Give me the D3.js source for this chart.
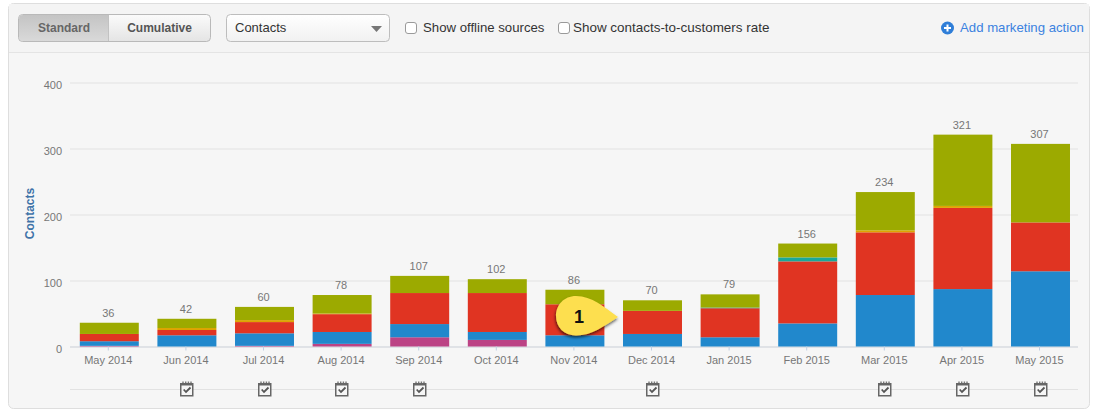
<!DOCTYPE html>
<html>
<head>
<meta charset="utf-8">
<script src="https://cdn.jsdelivr.net/npm/d3@7/dist/d3.min.js"></script>
<style>
html,body{margin:0;padding:0;background:#fff;}
svg{display:block;font-family:"Liberation Sans",Arial,sans-serif;}
</style>
</head>
<body>
<svg id="c" width="1099" height="418"></svg>
<script>
const months = ["May 2014","Jun 2014","Jul 2014","Aug 2014","Sep 2014","Oct 2014","Nov 2014","Dec 2014","Jan 2015","Feb 2015","Mar 2015","Apr 2015","May 2015"];
const magenta = [1,0,1,4,14,10,0,0,0,0,0,0,0];
const blue    = [7,17,19,18,20,12,17,19,14,35,78,87,114];
const red     = [11,8,17,27,47,59,47,35,44,94,95,123,74];
const orange  = [0,3,3,1,0,0,0,0,0,0,3,3,0];
const teal    = [0,0,0,0,0,0,0,0,1,6,0,0,0];
const olive   = [17,14,20,28,26,21,22,16,20,21,58,108,119];
const totals  = [36,42,60,78,107,102,86,70,79,156,234,321,307];
const yTicks  = [0,100,200,300,400];
const actionMonths = ["Jun 2014","Jul 2014","Aug 2014","Sep 2014","Dec 2014","Mar 2015","Apr 2015","May 2015"];
const seriesNames = ["magenta","blue","red","orange","teal","olive"];
const seriesColors = ["#bc4385","#2188cc","#e03422","#dea400","#1aa898","#9caa00"];
const seriesValues = [magenta,blue,red,orange,teal,olive];

const svg = d3.select("#c");
const defs = svg.append("defs");
function grad(id, a, b){
  const g = defs.append("linearGradient").attr("id",id).attr("x1",0).attr("y1",0).attr("x2",0).attr("y2",1);
  g.append("stop").attr("offset","0%").attr("stop-color",a);
  g.append("stop").attr("offset","100%").attr("stop-color",b);
}
grad("gOn","#c4c4c4","#d9d9d9");
grad("gOff","#fbfbfb","#e4e4e4");
grad("gSel","#ffffff","#f1f1f1");
const sh = defs.append("filter").attr("id","shadow").attr("x","-20%").attr("y","-20%").attr("width","150%").attr("height","160%");
sh.append("feDropShadow").attr("dx",-0.5).attr("dy",2).attr("stdDeviation",1.5).attr("flood-color","#000").attr("flood-opacity",0.65);

// panel
svg.append("rect").attr("x",8.5).attr("y",3.5).attr("width",1081).attr("height",405).attr("rx",5)
  .attr("fill","#f6f6f6").attr("stroke","#dedede");
svg.append("path").attr("d","M9 4h1080v48.5H9z").attr("fill","#f4f4f4");
svg.append("line").attr("x1",9).attr("x2",1089).attr("y1",52.5).attr("y2",52.5).attr("stroke","#e4e4e4");

// toolbar
const bar = svg.append("g");
bar.append("rect").attr("x",18.5).attr("y",14.5).attr("width",192).attr("height",27).attr("rx",4).attr("fill","url(#gOff)").attr("stroke","#b9b9b9");
bar.append("path").attr("d","M108.5 15H23a4 4 0 0 0-4 4v18a4 4 0 0 0 4 4h85.5z").attr("fill","url(#gOn)");
bar.append("line").attr("x1",108.5).attr("x2",108.5).attr("y1",15).attr("y2",41).attr("stroke","#c2c2c2");
bar.append("text").attr("x",64).attr("y",32).attr("text-anchor","middle").attr("font-size",12).attr("font-weight","bold").attr("fill","#666").text("Standard");
bar.append("text").attr("x",159.5).attr("y",32).attr("text-anchor","middle").attr("font-size",12).attr("font-weight","bold").attr("fill","#555").text("Cumulative");
bar.append("rect").attr("x",226.5).attr("y",14.5).attr("width",163).attr("height",27).attr("rx",4).attr("fill","url(#gSel)").attr("stroke","#bdbdbd");
bar.append("text").attr("x",235).attr("y",32).attr("font-size",13).attr("fill","#333").text("Contacts");
bar.append("path").attr("d","M371 26h11l-5.5 6z").attr("fill","#777");
function checkbox(x){
  bar.append("rect").attr("x",x+.5).attr("y",22.5).attr("width",11).attr("height",11).attr("rx",2.5).attr("fill","#fff").attr("stroke","#9a9a9a");
}
checkbox(405);
bar.append("text").attr("x",423).attr("y",32).attr("font-size",13.2).attr("fill","#333").text("Show offline sources");
checkbox(558);
bar.append("text").attr("x",573).attr("y",32).attr("font-size",13.45).attr("fill","#333").text("Show contacts-to-customers rate");
bar.append("circle").attr("cx",947.5).attr("cy",28).attr("r",6.5).attr("fill","#2f7ed8");
bar.append("path").attr("d","M947.5 24.5v7M944 28h7").attr("stroke","#fff").attr("stroke-width",2);
bar.append("text").attr("x",960).attr("y",32).attr("font-size",13.2).attr("fill","#3b82e0").text("Add marketing action");

// scales
const x = d3.scaleBand().domain(months).range([70.5,1079.3]).paddingInner(0.24).paddingOuter(0.12);
const y = d3.scaleLinear().domain([0,400]).range([346.5,82.5]);

// y axis with grid
const yAxis = svg.append("g").attr("transform","translate(70,0)")
  .call(d3.axisLeft(y).tickValues(yTicks).tickSize(0).tickPadding(8).tickFormat(d3.format("d")));
yAxis.select(".domain").remove();
yAxis.selectAll("text").attr("font-size",11).attr("font-family","inherit").attr("fill","#777").attr("y",2);
yAxis.selectAll("line").attr("x2",1008).attr("stroke",d=>d===0?"#c9ced6":"#e2e2e2");

svg.append("text").attr("transform","translate(34,213.5) rotate(-90)").attr("text-anchor","middle")
  .attr("font-size",12).attr("font-weight","bold").attr("fill","#3f73a8").text("Contacts");

// stacked bars
const rows = months.map((m,i)=>{
  const r = {month:m};
  seriesNames.forEach((s,j)=>r[s]=seriesValues[j][i]);
  return r;
});
const stacked = d3.stack().keys(seriesNames)(rows);
svg.append("g").selectAll("g").data(stacked).join("g")
  .attr("fill",(d,i)=>seriesColors[i])
  .selectAll("rect").data(d=>d.filter(p=>p[1]>p[0])).join("rect")
  .attr("x",d=>x(d.data.month)).attr("width",x.bandwidth())
  .attr("y",d=>y(d[1])).attr("height",d=>y(d[0])-y(d[1]));

// totals
svg.append("g").selectAll("text").data(months).join("text")
  .attr("x",m=>x(m)+x.bandwidth()/2-1)
  .attr("y",(m,i)=>y(d3.sum(seriesValues,s=>s[i]))-6)
  .attr("text-anchor","middle").attr("font-size",11).attr("fill","#777")
  .text((m,i)=>totals[i]);

// x axis
const xAxis = svg.append("g").attr("transform","translate(-1,346.5)")
  .call(d3.axisBottom(x).tickSize(4).tickPadding(6));
xAxis.select(".domain").remove();
xAxis.selectAll("line").attr("stroke","#c0d0e4");
xAxis.selectAll("text").attr("font-size",11).attr("font-family","inherit").attr("fill","#777");

// marketing action row
svg.append("line").attr("x1",70).attr("x2",1078).attr("y1",389.5).attr("y2",389.5).attr("stroke","#e2e2e2");
const icons = svg.append("g").selectAll("g").data(actionMonths).join("g")
  .attr("transform",m=>`translate(${Math.round(x(m)+x.bandwidth()/2-7)},381)`);
icons.append("rect").attr("x",.75).attr("y",2.75).attr("width",12).attr("height",12).attr("fill","#f6f6f6").attr("stroke","#666").attr("stroke-width",1.5);
icons.append("path").attr("d","M1 3.5h12").attr("stroke","#666").attr("stroke-width",2);
icons.append("path").attr("d","M3 2V.5M5.7 2V.5M8.4 2V.5M11 2V.5").attr("stroke","#777").attr("stroke-width",1.4);
icons.append("path").attr("d","M3.7 8.5l2.3 2.5l4.5-4.5").attr("fill","none").attr("stroke","#555").attr("stroke-width",1.8);

// callout
const call = svg.append("g");
call.append("path").attr("d","M618 317C604 307 592 296 576 296C564 296 556 305 556 316C556 327 564 335.5 576 335.5C592 335.5 604 326 618 317Z")
  .attr("fill","#fddf50").attr("filter","url(#shadow)");
call.append("text").attr("x",579).attr("y",323).attr("text-anchor","middle").attr("font-size",18).attr("font-weight","bold").attr("fill","#111").text("1");
</script>
</body>
</html>
